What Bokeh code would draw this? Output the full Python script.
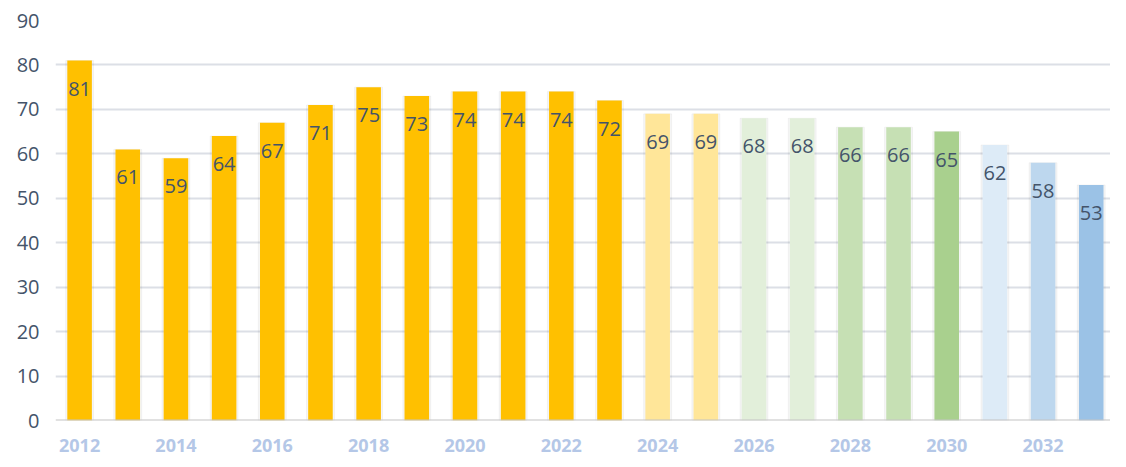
from bokeh.plotting import figure
from bokeh.models import ColumnDataSource, FixedTicker, Range1d, Span
from bokeh.embed import file_html
from bokeh.resources import INLINE
from bokeh.core.properties import value

years = list(range(2012, 2034))
values = [81, 61, 59, 64, 67, 71, 75, 73, 74, 74, 74, 72, 69, 69, 68, 68, 66, 66, 65, 62, 58, 53]
colors = ["#FFC000"] * 12 + ["#FFE699", "#FFE699", "#E2EFDA", "#E2EFDA",
                             "#C6E0B4", "#C6E0B4", "#A9D08E", "#DDEBF7", "#BDD7EE", "#9BC2E6"]
x_ticks = list(range(2012, 2034, 2))
y_ticks = list(range(0, 100, 10))

src = ColumnDataSource(dict(x=years, top=values, color=colors,
                            label=[str(v) for v in values]))

p = figure(width=1110, height=459, output_backend="svg", toolbar_location=None,
           x_range=Range1d(2011.5, 2033.4), y_range=Range1d(0, 90),
           min_border_left=55, min_border_right=0, min_border_top=20, min_border_bottom=39)

p.outline_line_color = None
p.background_fill_color = "white"
p.border_fill_color = "white"

p.xgrid.grid_line_color = None
p.ygrid.ticker = FixedTicker(ticks=y_ticks)
p.ygrid.grid_line_color = "#dcdfe6"
p.ygrid.grid_line_width = 2

# soft shadow around bars
p.vbar(x="x", top="top", bottom=0, width=0.58, color="#000000", alpha=0.04, source=src)
p.vbar(x="x", top="top", bottom=0, width=0.51, fill_color="color",
       line_color=None, source=src)

zero = Span(location=0, dimension="width", line_color="#c4c4c4", line_width=2)
p.add_layout(zero)

p.text(x="x", y="top", text="label", source=src, text_align="center",
       text_baseline="middle", y_offset=28, text_font=value("Open Sans"),
       text_font_size="20px", text_color="#44546A")

p.yaxis.ticker = FixedTicker(ticks=y_ticks)
p.yaxis.axis_line_color = None
p.yaxis.major_tick_line_color = None
p.yaxis.minor_tick_line_color = None
p.yaxis.major_label_text_font = "Open Sans"
p.yaxis.major_label_text_font_size = "20px"
p.yaxis.major_label_text_color = "#44546A"
p.yaxis.major_label_standoff = 10

p.xaxis.ticker = FixedTicker(ticks=x_ticks)
p.xaxis.axis_line_color = None
p.xaxis.major_tick_line_color = None
p.xaxis.minor_tick_line_color = None
p.xaxis.major_label_text_font = "Open Sans"
p.xaxis.major_label_text_font_style = "bold"
p.xaxis.major_label_text_font_size = "18px"
p.xaxis.major_label_text_color = "#B4C7E7"
p.xaxis.major_label_standoff = 12

open("out.html", "w").write(file_html(p, INLINE))
